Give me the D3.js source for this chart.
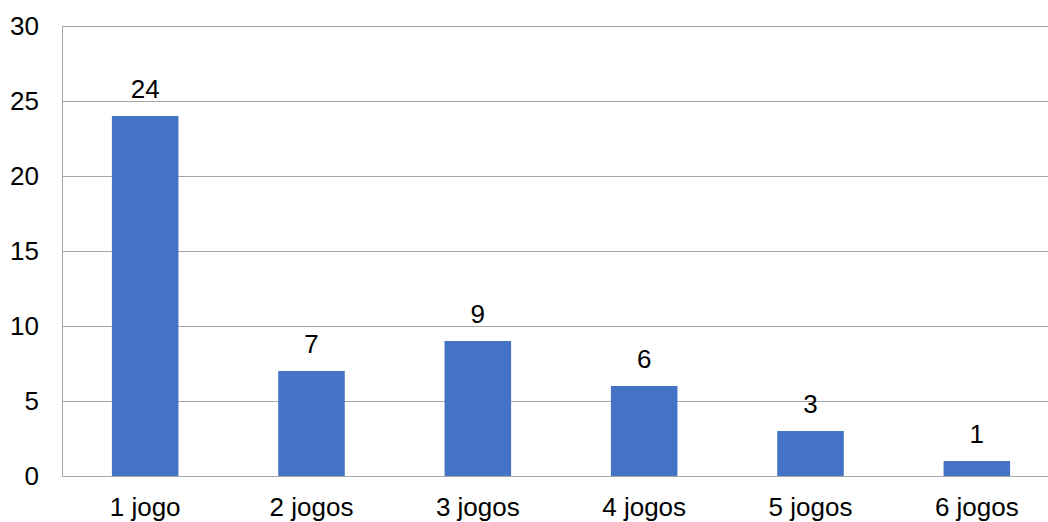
<!DOCTYPE html>
<html>
<head>
<meta charset="utf-8">
<script src="https://cdn.jsdelivr.net/npm/d3@7"></script>
<style>
  html, body { margin: 0; padding: 0; background: #fff; }
  svg { display: block; }
  text { font-family: "Liberation Sans", Arial, sans-serif; fill: #000; }
</style>
</head>
<body>
<svg id="chart" width="1048" height="522"></svg>
<script>
// Number of games per group
const categories = ["1 jogo", "2 jogos", "3 jogos", "4 jogos", "5 jogos", "6 jogos"];
const values = [24, 7, 9, 6, 3, 1];
const yTicks = [0, 5, 10, 15, 20, 25, 30];

const svg = d3.select("#chart");
const plotLeft = 62, plotRight = 1060, plotTop = 26, plotBottom = 476;
const fontSize = 26;

const x = d3.scaleBand()
  .domain(categories)
  .range([plotLeft, plotRight])
  .paddingInner(0.6)
  .paddingOuter(0.3);

const y = d3.scaleLinear().domain([0, 30]).range([plotBottom, plotTop]);

// Horizontal gridlines
svg.append("g")
  .selectAll("line")
  .data(yTicks)
  .join("line")
  .attr("x1", plotLeft).attr("x2", 1048)
  .attr("y1", d => Math.round(y(d)) + 0.5)
  .attr("y2", d => Math.round(y(d)) + 0.5)
  .attr("stroke", "#a6a6a6")
  .attr("stroke-width", 1);

// Left axis line
svg.append("line")
  .attr("x1", plotLeft + 0.5).attr("x2", plotLeft + 0.5)
  .attr("y1", plotTop).attr("y2", plotBottom + 0.5)
  .attr("stroke", "#a6a6a6");

// Y tick labels
svg.append("g")
  .selectAll("text")
  .data(yTicks)
  .join("text")
  .attr("x", 39)
  .attr("y", d => y(d) + 9)
  .attr("text-anchor", "end")
  .attr("font-size", fontSize)
  .text(d => d);

// Bars
svg.append("g")
  .selectAll("rect")
  .data(values)
  .join("rect")
  .attr("x", (d, i) => x(categories[i]))
  .attr("y", d => y(d))
  .attr("width", x.bandwidth())
  .attr("height", d => plotBottom - y(d))
  .attr("fill", "#4472c4");

// Value labels
svg.append("g")
  .selectAll("text")
  .data(values)
  .join("text")
  .attr("x", (d, i) => x(categories[i]) + x.bandwidth() / 2)
  .attr("y", d => y(d) - 18)
  .attr("text-anchor", "middle")
  .attr("font-size", fontSize)
  .text(d => d);

// Category labels
svg.append("g")
  .selectAll("text")
  .data(categories)
  .join("text")
  .attr("x", d => x(d) + x.bandwidth() / 2)
  .attr("y", 516)
  .attr("text-anchor", "middle")
  .attr("font-size", fontSize)
  .text(d => d);
</script>
</body>
</html>
